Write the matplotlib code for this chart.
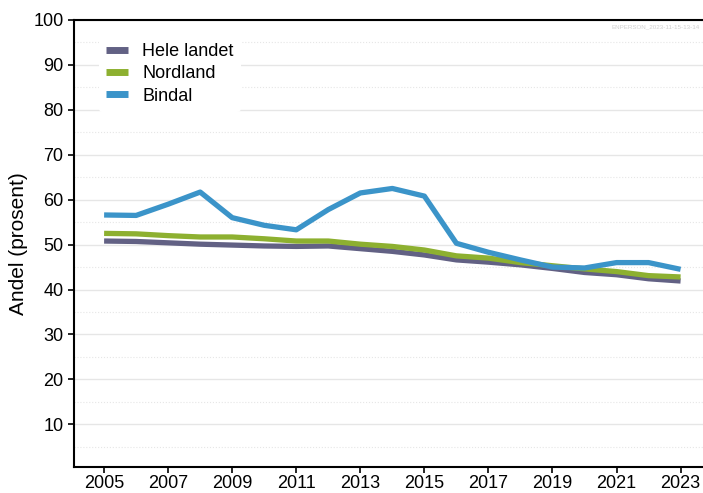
import matplotlib
matplotlib.use("Agg")
import matplotlib.pyplot as plt
import numpy as np

years = list(range(2005, 2024))
hele_landet = [50.8, 50.7, 50.4, 50.1, 49.9, 49.7, 49.6, 49.7, 49.1, 48.5, 47.7,
               46.6, 46.1, 45.5, 44.7, 43.8, 43.3, 42.4, 41.9]
nordland = [52.5, 52.4, 52.0, 51.7, 51.7, 51.3, 50.8, 50.8, 50.1, 49.6, 48.8,
            47.5, 47.0, 46.0, 45.3, 44.6, 44.0, 43.1, 42.8]
bindal = [56.6, 56.5, 59.0, 61.7, 56.0, 54.3, 53.3, 57.8, 61.5, 62.5, 60.8,
          50.3, 48.3, 46.6, 45.0, 44.8, 46.0, 46.0, 44.5]

plt.rcParams['font.family'] = ['Liberation Sans', 'DejaVu Sans']

fig = plt.figure(figsize=(7.03, 4.93), dpi=100)
ax = fig.add_axes([74/703, 1 - 467/493, 1 - 74/703, 447/493])

ax.plot(years, hele_landet, color='#626184', lw=3.8, label='Hele landet', solid_capstyle='butt')
ax.plot(years, nordland, color='#8db030', lw=3.8, label='Nordland', solid_capstyle='butt')
ax.plot(years, bindal, color='#3b94c9', lw=3.8, label='Bindal', solid_capstyle='butt')

ax.set_xlim(2004.06, 2023.7)
ax.set_ylim(0.5, 100)
ax.set_xticks(range(2005, 2024, 2))
ax.set_yticks(range(10, 101, 10))
ax.set_yticks(range(5, 100, 10), minor=True)
ax.grid(axis='y', which='major', color='#e6e6e6', lw=1)
ax.grid(axis='y', which='minor', color='#e6e6e6', lw=0.8, ls=':')
ax.tick_params(axis='y', which='minor', length=0)
ax.tick_params(labelsize=13, length=4, width=1.2)
ax.tick_params(axis='x', pad=2)
ax.set_axisbelow(True)

for side in ['left', 'bottom', 'top']:
    ax.spines[side].set_linewidth(1.5)
ax.spines['right'].set_visible(False)

ax.set_ylabel('Andel (prosent)', fontsize=15)

leg = ax.legend(loc='upper left', bbox_to_anchor=(0.025, 0.985), fontsize=13,
                frameon=True, edgecolor='none', facecolor='white', framealpha=1,
                handlelength=1.2, labelspacing=0.3)
for line in leg.get_lines():
    line.set_linewidth(5)

fig.text(0.995, 0.945, 'ENPERSON_2023-11-15-13-14', fontsize=4.5, color='#d0d0d0',
         ha='right', va='center')

fig.savefig('out.png', dpi=100)
